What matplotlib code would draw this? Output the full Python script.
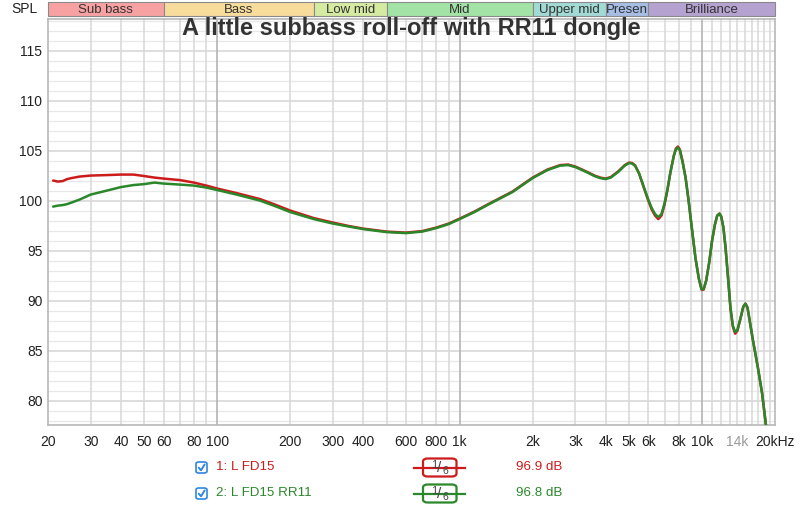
import matplotlib
matplotlib.use("Agg")
import matplotlib.pyplot as plt
from matplotlib.patches import Rectangle, FancyBboxPatch
from matplotlib.lines import Line2D
import numpy as np

plt.rcParams['font.family'] = ['Liberation Sans', 'DejaVu Sans']

# ---------------- data ----------------
freq = [21, 22, 23, 24, 25, 27, 30, 35, 40, 45,
        50, 55, 60, 70, 80, 90, 100, 120, 150, 175,
        200, 250, 300, 350, 400, 500, 600, 700, 800, 900,
        1000, 1150, 1300, 1650, 2000, 2300, 2600, 2800, 3000, 3200,
        3400, 3600, 3800, 4000, 4200, 4500, 4800, 5000, 5150, 5300,
        5500, 5750, 6000, 6200, 6400, 6600, 6800, 7000, 7200, 7400,
        7650, 7800, 7950, 8100, 8300, 8550, 8800, 9100, 9400, 9700,
        9950, 10150, 10400, 10700, 11000, 11300, 11550, 11800, 12000, 12250,
        12500, 12800, 13100, 13400, 13700, 14000, 14400, 14800, 15100, 15400,
        15700, 16200, 17000, 17700, 18300, 19000]

fd15 = [102.0, 101.9, 101.95, 102.15, 102.25, 102.4, 102.5, 102.55, 102.6, 102.6,
        102.45, 102.3, 102.2, 102.05, 101.8, 101.5, 101.2, 100.75, 100.15, 99.55,
        99.0, 98.25, 97.8, 97.45, 97.2, 96.9, 96.8, 96.95, 97.3, 97.7,
        98.2, 98.9, 99.6, 100.9, 102.3, 103.1, 103.55, 103.6, 103.4, 103.1,
        102.8, 102.5, 102.3, 102.2, 102.35, 102.9, 103.55, 103.8, 103.75, 103.5,
        102.7, 101.3, 100.0, 99.1, 98.5, 98.15, 98.5, 99.6, 101.1, 102.8,
        104.5, 105.2, 105.4, 105.1, 104.0, 102.3, 100.0, 97.0, 94.2, 92.2,
        91.1, 91.1, 92.0, 93.8, 96.0, 97.6, 98.5, 98.7, 98.4, 97.3,
        95.3, 92.3, 89.2, 87.4, 86.7, 87.0, 88.2, 89.4, 89.7, 89.3,
        88.1, 86.1, 83.3, 80.7, 77.8, 75.0]

fd15_rr11 = [99.4, 99.5, 99.55, 99.65, 99.8, 100.1, 100.6, 101.0, 101.35, 101.55,
             101.65, 101.8, 101.7, 101.6, 101.5, 101.3, 101.05, 100.6, 100.0, 99.4,
             98.85, 98.15, 97.7, 97.4, 97.15, 96.85, 96.75, 96.9, 97.25, 97.65,
             98.15, 98.85, 99.55, 100.85, 102.25, 103.05, 103.5, 103.55, 103.35, 103.05,
             102.75, 102.45, 102.25, 102.15, 102.3, 102.85, 103.5, 103.75, 103.7, 103.45,
             102.7, 101.35, 100.1, 99.25, 98.65, 98.35, 98.65, 99.7, 101.1, 102.8,
             104.5, 105.1, 105.3, 105.0, 103.9, 102.3, 100.0, 97.0, 94.2, 92.2,
             91.15, 91.15, 92.0, 93.8, 96.0, 97.6, 98.5, 98.7, 98.4, 97.3,
             95.3, 92.3, 89.3, 87.5, 86.85, 87.1, 88.2, 89.4, 89.7, 89.3,
             88.1, 86.1, 83.3, 80.7, 77.8, 75.0]

series_names = ["1: L FD15", "2: L FD15 RR11"]
series_levels = ["96.9 dB", "96.8 dB"]
series_colors = ["#cc1b1b", "#2a882a"]

xtick_vals = [20, 30, 40, 50, 60, 80, 100, 200, 300, 400, 600, 800, 1000, 2000,
              3000, 4000, 5000, 6000, 8000, 10000, 14000, 20000]
xtick_labels = ["20", "30", "40", "50", "60", "80", "100", "200", "300", "400",
                "600", "800", "1k", "2k", "3k", "4k", "5k", "6k", "8k", "10k",
                "14k", "20kHz"]
ytick_vals = [80, 85, 90, 95, 100, 105, 110, 115]

bands = [("Sub bass", 20, 60, "#f7a1a3"), ("Bass", 60, 250, "#f7dc9c"),
         ("Low mid", 250, 500, "#d6eba2"), ("Mid", 500, 2000, "#a3e3a6"),
         ("Upper mid", 2000, 4000, "#a2dad6"), ("Presen", 4000, 6000, "#a6bde6"),
         ("Brilliance", 6000, 20000, "#b5a2d0")]

title = "A little subbass roll-off with RR11 dongle"

# ---------------- figure ----------------
W, H = 800, 508
fig = plt.figure(figsize=(W / 100, H / 100), dpi=100)

ax_l, ax_r, ax_t, ax_b = 48, 775, 18.5, 425
ax = fig.add_axes([ax_l / W, 1 - ax_b / H, (ax_r - ax_l) / W, (ax_b - ax_t) / H])
ax.set_xscale('log')
ax.set_xlim(20, 20000)
ax.set_ylim(77.57, 118.2)

# grid
for v in range(78, 119):
    if v % 5 == 0:
        ax.axhline(v, color='#d4d4d4', lw=1.1, zorder=0)
    else:
        ax.axhline(v, color='#e8e8e8', lw=0.9, zorder=0)
vlines = list(range(30, 100, 10)) + list(range(200, 1000, 100)) + \
    list(range(2000, 10000, 1000)) + list(range(11000, 20000, 1000))
for v in vlines:
    ax.axvline(v, color='#dadada', lw=1.2, zorder=0)
for v in [100, 1000, 10000]:
    ax.axvline(v, color='#b4b4b4', lw=1.2, zorder=0)

ax.plot(freq, fd15, color=series_colors[0], lw=1.8, zorder=3,
        solid_capstyle='round', solid_joinstyle='round')
ax.plot(freq, fd15_rr11, color=series_colors[1], lw=1.8, zorder=4,
        solid_capstyle='round', solid_joinstyle='round')

for s in ax.spines.values():
    s.set_color('#b8b8b8')
    s.set_linewidth(1.2)

ax.set_xticks(xtick_vals)
ax.set_xticklabels(xtick_labels)
ax.xaxis.set_minor_locator(matplotlib.ticker.NullLocator())
ax.set_yticks(ytick_vals)
ax.set_yticklabels([str(v) for v in ytick_vals])
ax.tick_params(axis='both', length=0, labelsize=10, colors='#222222')
ax.tick_params(axis='x', pad=7)
ax.tick_params(axis='y', pad=4)
for lbl in ax.get_xticklabels():
    if lbl.get_text() == "14k":
        lbl.set_color('#999999')

# band
bax = fig.add_axes([ax_l / W, 1 - 16.5 / H, (ax_r - ax_l) / W, 14.5 / H])
bax.set_xscale('log')
bax.set_xlim(20, 20000)
bax.set_ylim(0, 1)
bax.axis('off')
for name, f0, f1, c in bands:
    bax.add_patch(Rectangle((f0, 0), f1 - f0, 1, facecolor=c, edgecolor='#8a8a8a',
                            lw=0.8, clip_on=False))
    bax.text(np.sqrt(f0 * f1), 0.45, name, ha='center', va='center', fontsize=9.5,
             color='#333333')

fig.text(24 / W, 1 - 9 / H, "SPL", ha='center', va='center', fontsize=10, color='#222222')

fig.text(411 / W, 1 - 35.5 / H, title, ha='center', va='baseline', fontsize=17,
         fontweight='bold', color='#333333', zorder=10)

# legend rows
rows_y = [467.5, 493.5]
for i in range(2):
    yy = 1 - rows_y[i] / H
    ry = rows_y[i]
    c = series_colors[i]
    # checkbox
    cb = FancyBboxPatch((196 / W, 1 - (ry + 5.5) / H), 11 / W, 11 / H,
                        boxstyle="round,pad=0,rounding_size=0.0035",
                        transform=fig.transFigure, facecolor='white',
                        edgecolor='#2f86e0', lw=1.2)
    fig.add_artist(cb)
    fig.add_artist(Line2D([198.8 / W, 201 / W, 204.6 / W],
                          [1 - (ry + 0.2) / H, 1 - (ry + 2.8) / H, 1 - (ry - 3) / H],
                          color='#2f86e0', lw=1.4, solid_capstyle='round',
                          solid_joinstyle='round'))
    fig.text(216.5 / W, yy, series_names[i], ha='left', va='center', fontsize=9.6,
             color=c)
    fig.add_artist(Line2D([414 / W, 465 / W], [yy, yy], color=c, lw=1.6))
    box = FancyBboxPatch((423 / W, 1 - (ry + 9) / H), 33.5 / W, 18 / H,
                         boxstyle="round,pad=0,rounding_size=0.006",
                         transform=fig.transFigure, facecolor='white',
                         edgecolor=c, lw=1.6)
    fig.add_artist(box)
    fig.text(434 / W, 1 - (ry - 2.5) / H, "1", ha='center', va='center', fontsize=8,
             color='#444444')
    fig.text(439.5 / W, yy, "/", ha='center', va='center', fontsize=11,
             color='#444444')
    fig.text(445.5 / W, 1 - (ry + 3.5) / H, "6", ha='center', va='center', fontsize=7.5,
             color='#444444')
    fig.text(516.5 / W, yy, series_levels[i], ha='left', va='center', fontsize=9.6,
             color=c)

fig.savefig("out.png", dpi=100, facecolor='white')
